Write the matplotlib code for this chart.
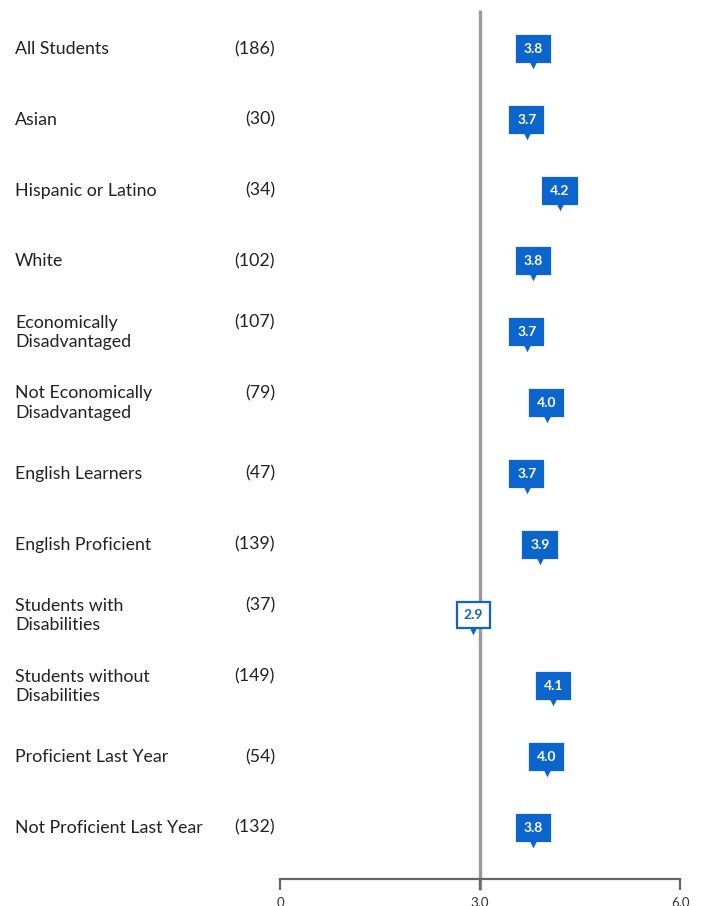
import matplotlib.pyplot as plt

plt.rcParams['font.family'] = ['Lato', 'DejaVu Sans']

# 数据
groups = ['All Students', 'Asian', 'Hispanic or Latino', 'White',
          'Economically\nDisadvantaged', 'Not Economically\nDisadvantaged',
          'English Learners', 'English Proficient',
          'Students with\nDisabilities', 'Students without\nDisabilities',
          'Proficient Last Year', 'Not Proficient Last Year']
counts = [186, 30, 34, 102, 107, 79, 47, 139, 37, 149, 54, 132]
scores = [3.8, 3.7, 4.2, 3.8, 3.7, 4.0, 3.7, 3.9, 2.9, 4.1, 4.0, 3.8]
ref_value = 3.0
x_ticks = [0, 3.0, 6.0]
x_tick_labels = ['0', '3.0', '6.0']

blue = '#0b65cc'

W, H = 701, 906
fig = plt.figure(figsize=(W / 100, H / 100), dpi=100)
# x: 0 -> 280px, 6 -> 680px ; y: top 10px, bottom (axis line) 879px
ax = fig.add_axes([280 / W, 1 - 879 / H, 400 / W, (879 - 10) / H])
ax.set_xlim(0, 6)
row_px = 70.8
ax.set_ylim((879 - 49) / row_px, (10 - 49) / row_px)

for s in ['top', 'right', 'left']:
    ax.spines[s].set_visible(False)
ax.spines['bottom'].set_color('#666666')
ax.spines['bottom'].set_linewidth(1.6)
ax.set_yticks([])
ax.set_xticks(x_ticks)
ax.set_xticklabels(x_tick_labels, fontsize=9.5, color='#333333')
ax.tick_params(axis='x', direction='out', length=8, width=1.6, color='#666666', pad=5)

# 参考线
ax.vlines(ref_value, (10 - 49) / row_px, (890 - 49) / row_px, color='#999999',
          lw=2.4, clip_on=False, zorder=1)

label_x = (15 - 280) / (400 / 6)
count_x = (275 - 280) / (400 / 6)
for i, (g, c, v) in enumerate(zip(groups, counts, scores)):
    multi = '\n' in g
    ax.text(label_x, i, g, ha='left', va='center', fontsize=12.8, color='#222222',
            linespacing=1.25, clip_on=False)
    cy = i - 10 / row_px if multi else i
    ax.text(count_x, cy, '(%d)' % c, ha='right', va='center', fontsize=12.8,
            color='#222222', clip_on=False)

    above = v >= ref_value
    fc = blue if above else 'white'
    tc = 'white' if above else blue
    ax.scatter([v], [i + 14 / row_px], marker='v', s=70, color=blue, zorder=3,
               linewidths=0)
    ax.text(v, i, '%.1f' % v, ha='center', va='center', fontsize=10,
            fontweight='bold', color=tc, zorder=4,
            bbox=dict(boxstyle='square,pad=0.5', fc=fc, ec=blue, lw=1.6))

fig.savefig('out.png', dpi=100)
